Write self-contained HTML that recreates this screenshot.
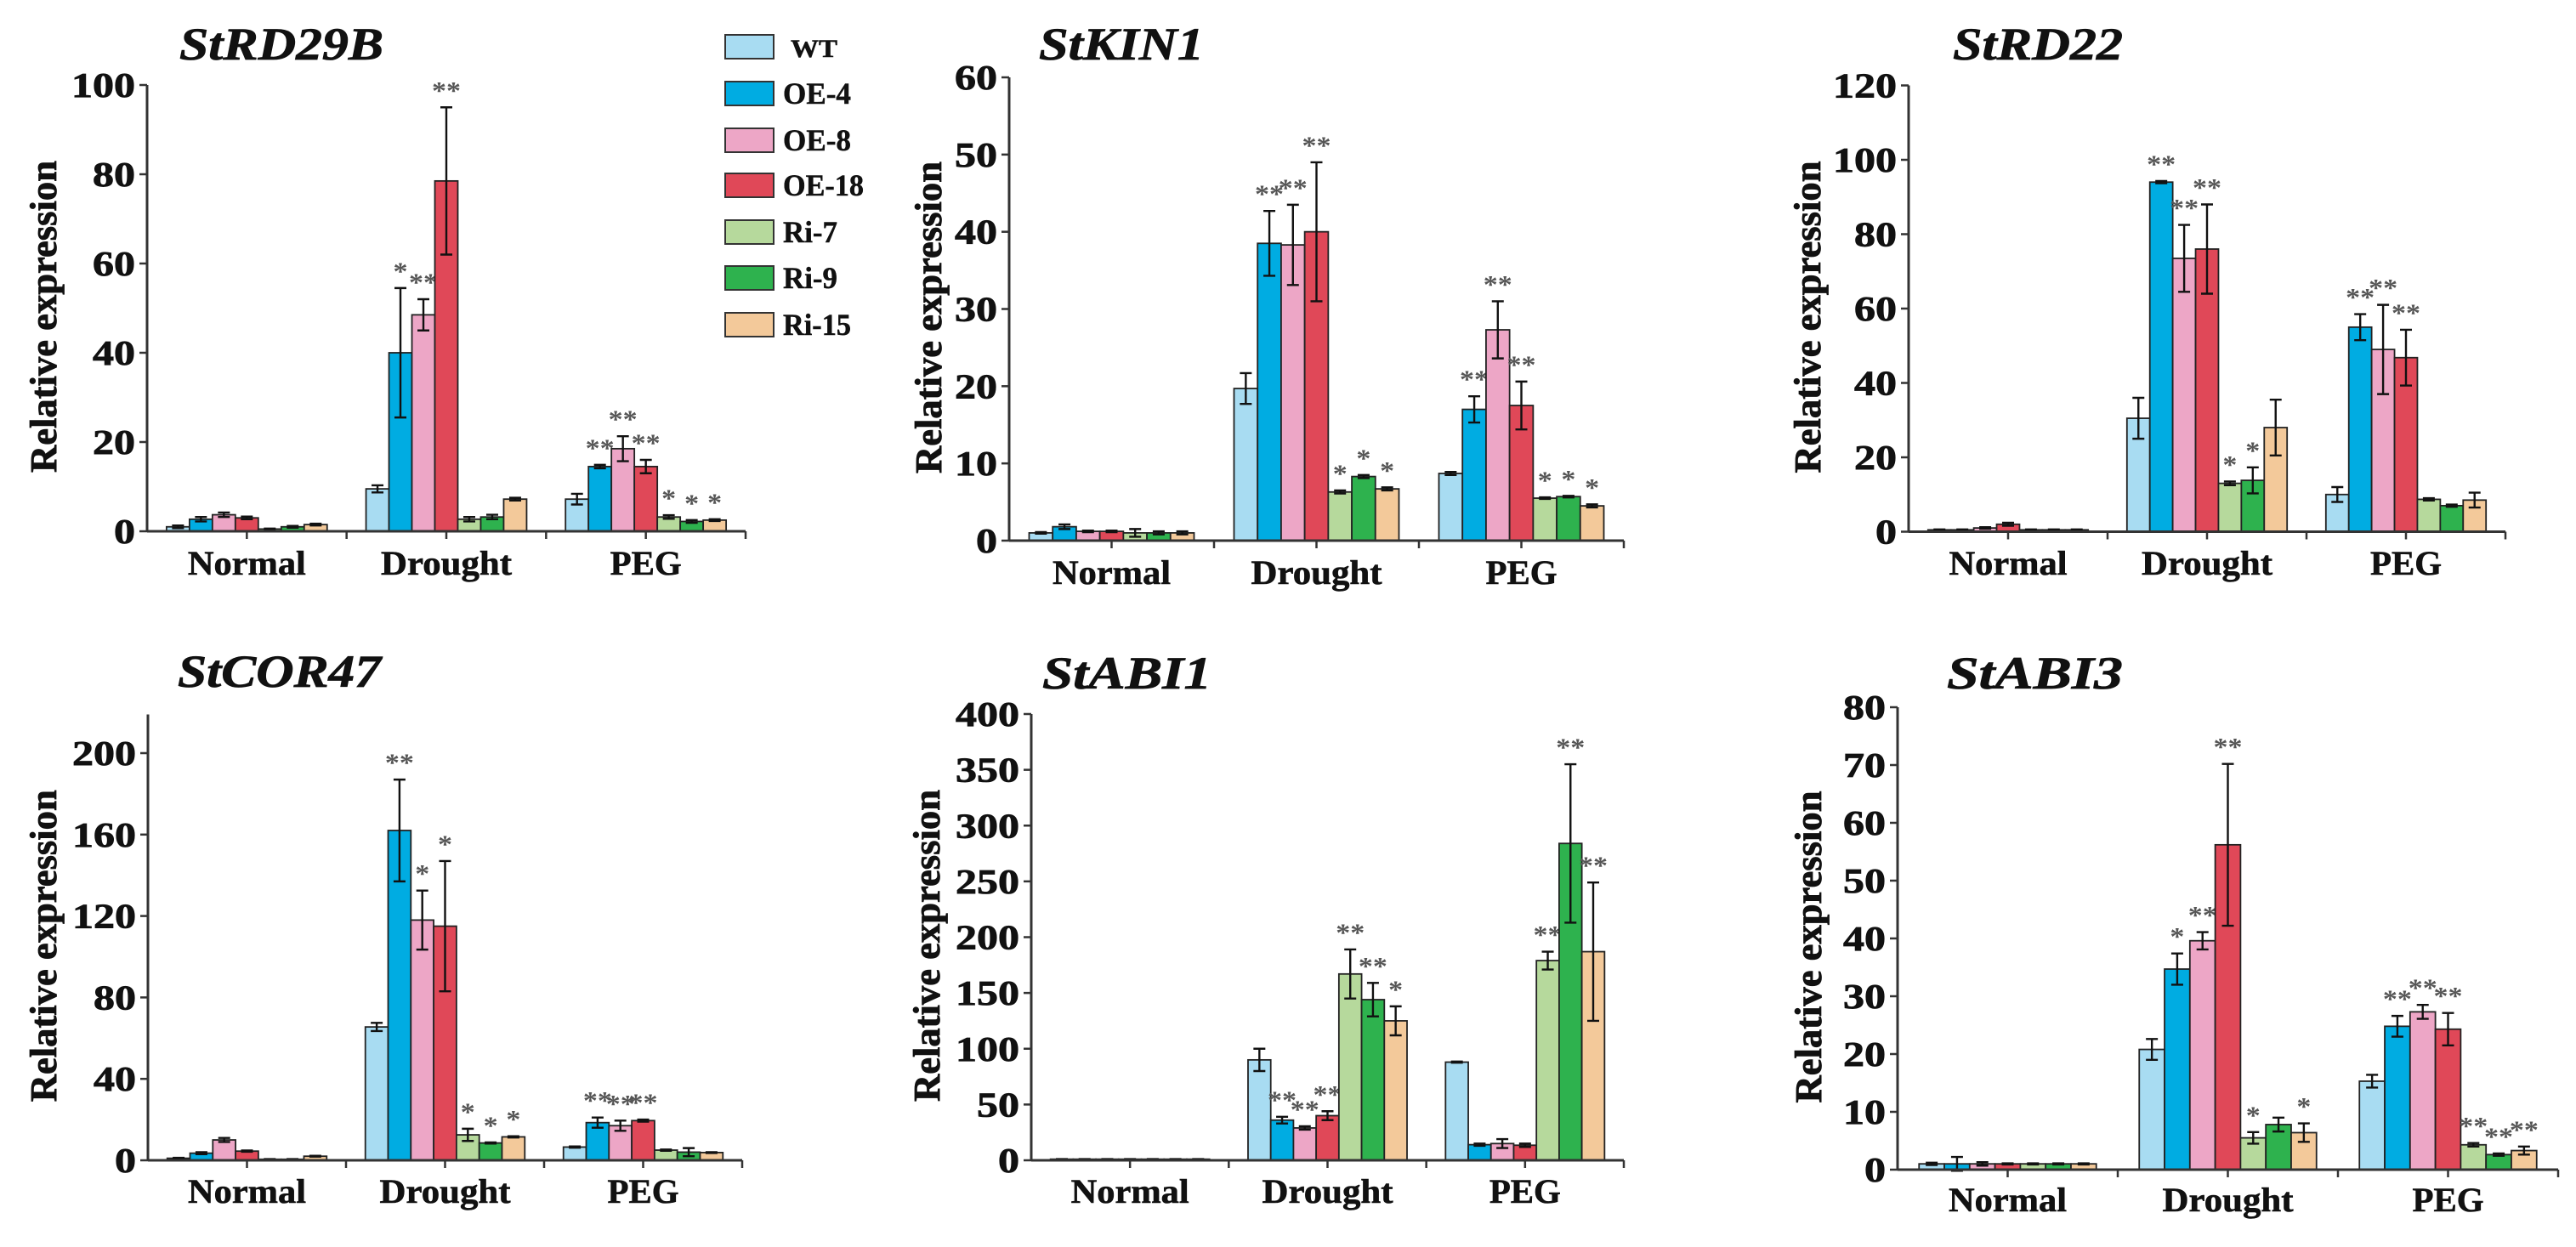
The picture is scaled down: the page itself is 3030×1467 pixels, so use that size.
<!DOCTYPE html>
<html><head><meta charset="utf-8">
<style>
html,body{margin:0;padding:0;background:#fff;}
svg{display:block;}
text{font-family:"Liberation Serif","Times New Roman",serif;font-weight:bold;}
</style></head>
<body>
<svg id="fig" width="3030" height="1467" viewBox="0 0 3030 1467" xmlns="http://www.w3.org/2000/svg"></svg>
<script>
// ---- data ----
const groups = ["Normal","Drought","PEG"];
const lines = ["WT","OE-4","OE-8","OE-18","Ri-7","Ri-9","Ri-15"];
const colors = ["#a8dcf2","#00ace2","#eda6c6","#e04858","#b6d99c","#2eb24e","#f3c99a"];

const rd29bMean = [[1,2.7,3.7,3.0,0.5,1.0,1.5],[9.5,40,48.5,78.5,2.7,3.2,7.2],[7.2,14.5,18.5,14.5,3.2,2.2,2.5]];
const rd29bErr  = [[0.3,0.5,0.5,0.3,0.1,0.2,0.2],[0.8,14.5,3.5,16.5,0.5,0.5,0.3],[1.2,0.4,2.8,1.5,0.4,0.3,0.2]];
const rd29bSig  = [["","","","","","",""],["","*","**","**","","",""],["","**","**","**","*","*","*"]];

const kin1Mean = [[1,1.8,1.2,1.2,1.0,1.0,1.0],[19.7,38.5,38.3,40,6.3,8.3,6.7],[8.7,17,27.3,17.5,5.5,5.7,4.5]];
const kin1Err  = [[0.1,0.3,0.1,0.1,0.5,0.2,0.2],[2,4.2,5.2,9,0.2,0.2,0.2],[0.2,1.7,3.7,3.1,0.1,0.1,0.2]];
const kin1Sig  = [["","","","","","",""],["","**","**","**","*","*","*"],["","**","**","**","*","*","*"]];

const rd22Mean = [[0.5,0.5,1,2,0.5,0.5,0.5],[30.5,94,73.5,76,13,13.8,28],[10,55,49,46.8,8.7,7,8.5]];
const rd22Err  = [[0.1,0.1,0.2,0.4,0.1,0.1,0.1],[5.5,0.3,9,12,0.5,3.5,7.5],[2,3.5,12,7.5,0.3,0.3,2]];
const rd22Sig  = [["","","","","","",""],["","**","**","**","*","*",""],["","**","**","**","","",""]];

const cor47Mean = [[1,3.5,10,4.5,0.5,0.5,2],[65.5,162,118,115,12.5,8.5,11.5],[6.5,18.5,17,19.5,5,4,3.8]];
const cor47Err  = [[0.2,0.5,1,0.3,0.1,0.1,0.2],[2,25,14.5,32,3,0.3,0.3],[0.3,2.5,2.5,0.5,0.3,2,0.2]];
const cor47Sig  = [["","","","","","",""],["","**","*","*","*","*","*"],["","**","**","**","","",""]];

const abi1Mean = [[1,1,1,1,1,1,1],[90,36,29,40,167,144,125],[88,14,15,13.5,179,284,187]];
const abi1Err  = [[0.1,0.1,0.1,0.1,0.1,0.1,0.1],[10,3,1.5,4,22,15,13],[0.5,1,4,1.5,8,71,62]];
const abi1Sig  = [["","","","","","",""],["","**","**","**","**","**","*"],["","","","","**","**","**"]];

const abi3Mean = [[1,1,1,1,1,1,1],[20.8,34.7,39.6,56.2,5.5,7.8,6.4],[15.3,24.8,27.3,24.3,4.3,2.6,3.3]];
const abi3Err  = [[0.2,1.2,0.3,0.1,0.1,0.1,0.1],[1.8,2.7,1.5,14,1,1.2,1.6],[1.1,1.8,1.2,2.8,0.3,0.2,0.7]];
const abi3Sig  = [["","","","","","",""],["","*","**","**","*","","*"],["","**","**","**","**","**","**"]];

const rd29bTicks = [0,20,40,60,80,100];
const kin1Ticks  = [0,10,20,30,40,50,60];
const rd22Ticks  = [0,20,40,60,80,100,120];
const cor47Ticks = [0,40,80,120,160,200];
const abi1Ticks  = [0,50,100,150,200,250,300,350,400];
const abi3Ticks  = [0,10,20,30,40,50,60,70,80];

// ---- layout (pixels) ----
const panels = [
 {name:"StRD29B", mean:rd29bMean, err:rd29bErr, sig:rd29bSig, ticks:rd29bTicks, ax:173, x1:877, refPx:100, refVal:100, y0:625, topVal:100, tx:211, tw:240, ty:70, yt:51, catY:676},
 {name:"StKIN1", mean:kin1Mean, err:kin1Err, sig:kin1Sig, ticks:kin1Ticks, ax:1187, x1:1910, refPx:91, refVal:60, y0:636, topVal:60, tx:1222, tw:194, ty:70, yt:1092, catY:687},
 {name:"StRD22", mean:rd22Mean, err:rd22Err, sig:rd22Sig, ticks:rd22Ticks, ax:2245, x1:2947, refPx:100.5, refVal:120, y0:625.5, topVal:120, tx:2297, tw:200, ty:70, yt:2126, catY:676},
 {name:"StCOR47", mean:cor47Mean, err:cor47Err, sig:cor47Sig, ticks:cor47Ticks, ax:174, x1:873, refPx:886, refVal:200, y0:1365, topVal:219, tx:209, tw:239, ty:808, yt:51, catY:1415},
 {name:"StABI1", mean:abi1Mean, err:abi1Err, sig:abi1Sig, ticks:abi1Ticks, ax:1213, x1:1910, refPx:840, refVal:400, y0:1365, topVal:400, tx:1226, tw:199, ty:810, yt:1090, catY:1415},
 {name:"StABI3", mean:abi3Mean, err:abi3Err, sig:abi3Sig, ticks:abi3Ticks, ax:2232, x1:3009, refPx:832, refVal:80, y0:1376, topVal:80, tx:2290, tw:207, ty:810, yt:2127, catY:1425}
];

const NS = "http://www.w3.org/2000/svg";
const svg = document.getElementById("fig");
function mk(tag, attrs, parent){
  const e = document.createElementNS(NS, tag);
  for (const k in attrs) e.setAttribute(k, attrs[k]);
  (parent||svg).appendChild(e);
  return e;
}

panels.forEach((p, pi) => {
  const g = mk("g", {});
  
  
  const scale = (p.y0 - p.refPx) / p.refVal;
  const Y = v => p.y0 - v * scale;
  const gw = (p.x1 - p.ax) / 3;
  const bw = gw * 0.115;
  const off = (gw - 7 * bw) / 2;
  const X = (gi, li) => p.ax + gi * gw + off + li * bw;

  const t = mk("text", {x:p.tx, y:p.ty, "font-size":54, "font-style":"italic", textLength:p.tw, lengthAdjust:"spacingAndGlyphs", fill:"#111", stroke:"#111", "stroke-width":0.8}, g);
  t.textContent = p.name;
  
  

  const ycy = (Y(p.topVal) + p.y0) / 2 + 10;
  const yt = mk("text", {x:p.yt, y:ycy, "font-size":44, "text-anchor":"middle", textLength:367, lengthAdjust:"spacingAndGlyphs", transform:`rotate(-90 ${p.yt} ${ycy}) translate(0 15)`, fill:"#111", stroke:"#111", "stroke-width":0.8}, g);
  yt.textContent = "Relative expression";
  
  

  p.mean.forEach((row, gi) => {
    row.forEach((v, li) => {
      const x = X(gi, li);
      const r = mk("rect", {x:x, y:Y(v), width:bw, height:Math.max(p.y0 - Y(v), 0.5), fill:colors[li], stroke:"#222", "stroke-width":1.8}, g);
      
      
      const e = p.err[gi][li];
      const cx = x + bw / 2;
      const eb = mk("path", {d:`M${cx-7},${Y(v+e)}H${cx+7}M${cx},${Y(v+e)}V${Y(v-e)}M${cx-7},${Y(v-e)}H${cx+7}`, stroke:"#111", "stroke-width":2.4, fill:"none"}, g);
      
      
      const s = p.sig[gi][li];
      if (s) {
        const st = mk("text", {x:cx, y:Y(v+e) - 10, "font-size":30, "font-weight":"normal", "text-anchor":"middle", fill:"#555", textLength: s.length * 17, lengthAdjust:"spacingAndGlyphs"}, g);
        st.textContent = s;
        
        
      }
    });
  });

  const axisTop = Y(p.topVal);
  const ya = mk("line", {x1:p.ax, y1:axisTop, x2:p.ax, y2:p.y0, stroke:"#333", "stroke-width":3}, g);
  
  
  const xa = mk("line", {x1:p.ax, y1:p.y0, x2:p.x1, y2:p.y0, stroke:"#333", "stroke-width":3}, g);
  
  

  p.ticks.forEach(tv => {
    const y = Y(tv);
    mk("line", {x1:p.ax - 9, y1:y, x2:p.ax, y2:y, stroke:"#333", "stroke-width":2.5}, g);
    const lab = String(tv);
    const tl = mk("text", {x:p.ax - 14, y:y + 14, "font-size":41, "text-anchor":"end", textLength:lab.length * 25, lengthAdjust:"spacingAndGlyphs", fill:"#111", stroke:"#111", "stroke-width":0.8}, g);
    tl.textContent = lab;
    
    
  });

  for (let k = 1; k <= 6; k++) {
    const x = p.ax + k * gw / 2;
    mk("line", {x1:x, y1:p.y0, x2:x, y2:p.y0 + 9, stroke:"#333", "stroke-width":2.5}, g);
  }
  const catW = {Normal:139, Drought:154, PEG:84};
  groups.forEach((gn, gi) => {
    const cx = p.ax + (gi + 0.5) * gw;
    const ct = mk("text", {x:cx, y:p.catY, "font-size":40, "text-anchor":"middle", textLength:catW[gn], lengthAdjust:"spacingAndGlyphs", fill:"#111", stroke:"#111", "stroke-width":0.6}, g);
    ct.textContent = gn;
    
    
  });
});

const legendY = [55,110,165,218,273,327,382];
const legendW = [55,80,80,95,64,64,80];
const lg = mk("g", {});


lines.forEach((ln, i) => {
  const cy = legendY[i];
  const sw = mk("rect", {x:853, y:cy - 14, width:57, height:28, fill:colors[i], stroke:"#333", "stroke-width":2}, lg);
  
  
  const tx = mk("text", {x:ln === "WT" ? 930 : 921, y:cy + 12, "font-size":ln === "WT" ? 30 : 36, textLength:legendW[i], lengthAdjust:"spacingAndGlyphs", fill:"#111", stroke:"#111", "stroke-width":0.5}, lg);
  tx.textContent = ln;
  
  
});
</script>
</body></html>
